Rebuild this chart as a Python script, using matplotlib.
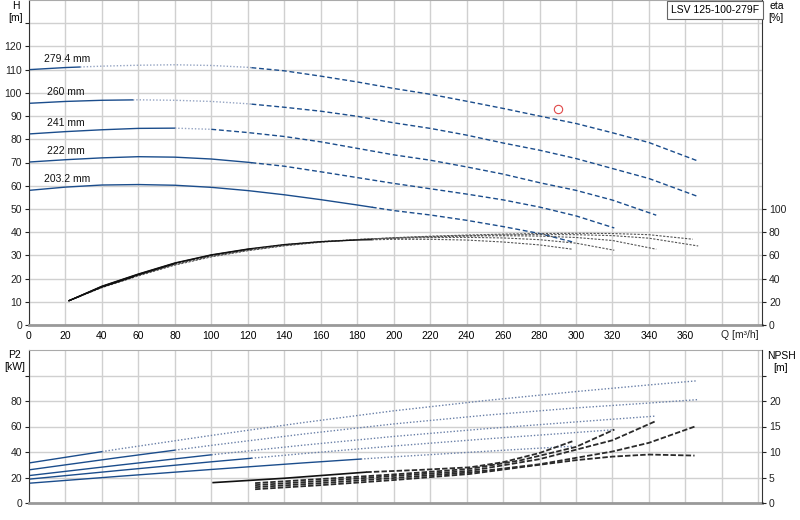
import numpy as np
import matplotlib
matplotlib.use("Agg")
import matplotlib.pyplot as plt

plt.rcParams["font.family"] = ["Liberation Sans", "DejaVu Sans"]
plt.rcParams["font.size"] = 7.5

# impeller diameters, largest first
diams = ["279.4 mm", "260 mm", "241 mm", "222 mm", "203.2 mm"]

# head curves H [m] vs Q [m3/h]
q_h = [
    [0, 20, 40, 60, 80, 100, 120, 140, 160, 180, 200, 220, 240, 260, 280, 300, 320, 340, 366],
    [0, 20, 40, 60, 80, 100, 120, 140, 160, 180, 200, 220, 240, 260, 280, 300, 320, 340, 366],
    [0, 20, 40, 60, 80, 100, 120, 140, 160, 180, 200, 220, 240, 260, 280, 300, 320, 344],
    [0, 20, 40, 60, 80, 100, 120, 140, 160, 180, 200, 220, 240, 260, 280, 300, 321],
    [0, 20, 40, 60, 80, 100, 120, 140, 160, 180, 200, 220, 240, 260, 280, 298],
]
h_vals = [
    [110.0, 110.9, 111.5, 111.9, 112.1, 111.8, 111.0, 109.5, 107.2, 104.7, 101.9, 99.4, 96.4, 93.3, 90.0, 86.8, 82.8, 78.6, 70.9],
    [95.5, 96.3, 96.8, 97.0, 96.8, 96.3, 95.3, 93.8, 92.1, 89.9, 87.1, 84.7, 81.8, 78.4, 75.3, 71.7, 67.4, 63.1, 55.6],
    [82.3, 83.3, 84.1, 84.7, 84.8, 84.3, 82.9, 81.2, 78.9, 76.1, 73.3, 71.0, 68.1, 65.0, 61.3, 58.0, 53.8, 47.3],
    [70.2, 71.2, 72.0, 72.5, 72.3, 71.5, 70.1, 68.4, 66.0, 63.5, 61.0, 58.7, 56.4, 53.9, 50.8, 47.0, 41.8],
    [58.0, 59.4, 60.3, 60.5, 60.2, 59.3, 57.9, 56.1, 54.0, 51.7, 49.3, 47.4, 45.1, 42.4, 39.4, 35.8],
]

# efficiency eta [%]
q_eta = [
    [22, 40, 60, 80, 100, 120, 140, 160, 180, 200, 220, 240, 260, 280, 300, 320, 340, 364],
    [22, 40, 60, 80, 100, 120, 140, 160, 180, 200, 220, 240, 260, 280, 300, 320, 340, 367],
    [22, 40, 60, 80, 100, 120, 140, 160, 180, 200, 220, 240, 260, 280, 300, 320, 344],
    [22, 40, 60, 80, 100, 120, 140, 160, 180, 200, 220, 240, 260, 280, 300, 321],
    [22, 40, 60, 80, 100, 120, 140, 160, 180, 200, 220, 240, 260, 280, 298],
]
eta_vals = [
    [21, 32.2, 42.3, 51.6, 58.7, 64.0, 68.2, 71.3, 73.5, 75.2, 76.5, 77.5, 78.3, 78.8, 79.0, 78.8, 77.8, 73.9],
    [21, 32.6, 42.8, 52.2, 59.2, 64.4, 68.5, 71.5, 73.6, 75.1, 76.2, 77.0, 77.6, 77.9, 77.8, 77.0, 74.8, 68.1],
    [21, 33.0, 43.3, 52.7, 59.7, 64.8, 68.8, 71.7, 73.6, 74.9, 75.9, 76.6, 76.9, 76.6, 75.4, 72.8, 65.3],
    [21, 33.2, 43.7, 53.2, 60.2, 65.2, 69.2, 71.9, 73.6, 74.6, 75.3, 75.5, 75.0, 73.5, 70.5, 64.4],
    [21, 33.5, 44.0, 53.5, 60.5, 65.5, 69.3, 71.8, 73.2, 73.8, 73.8, 73.2, 71.5, 69.0, 65.3],
]

# shaft power P2 [kW]
q_p2 = [
    [0, 50, 100, 150, 200, 250, 300, 340, 366],
    [0, 50, 100, 150, 200, 250, 300, 340, 367],
    [0, 50, 100, 150, 200, 250, 300, 344],
    [0, 50, 100, 150, 200, 250, 300, 321],
    [0, 50, 100, 150, 200, 250, 298],
]
p2_vals = [
    [31.4, 42.5, 53.0, 63.0, 72.3, 80.3, 87.4, 92.6, 95.8],
    [26.0, 35.8, 45.2, 54.0, 62.0, 68.8, 74.6, 78.4, 81.1],
    [21.5, 29.8, 37.8, 45.3, 52.2, 58.2, 63.6, 68.2],
    [18.7, 25.6, 32.3, 38.7, 44.7, 50.2, 55.3, 57.5],
    [15.5, 21.0, 26.3, 31.4, 36.2, 40.5, 44.5],
]

# NPSH [m]
q_npsh = [
    [124, 160, 200, 242, 280, 300, 320, 340, 365],
    [124, 160, 200, 242, 280, 320, 340, 366],
    [124, 160, 200, 242, 280, 320, 344],
    [124, 160, 200, 242, 270, 300, 321],
    [101, 140, 185, 215, 242, 260, 280, 298],
]
npsh_vals = [
    [2.7, 3.5, 4.5, 5.7, 7.5, 8.4, 9.1, 9.5, 9.3],
    [3.1, 3.9, 4.9, 6.0, 7.6, 10.1, 11.8, 15.1],
    [3.5, 4.3, 5.3, 6.3, 8.6, 12.3, 16.1],
    [3.9, 4.7, 5.6, 6.7, 8.4, 11.0, 14.4],
    [4.0, 4.85, 6.05, 6.5, 7.0, 8.0, 9.8, 12.1],
]

op_q = [290]
op_h = [93]

# where each curve changes from solid to dotted / dashed
solid_end = [28, 57, 80, 122, 188]
dash_start = [122, 122, 100, 122, 188]
p2_solid_end = [40, 80, 100, 122, 182]

BLUE = "#1b4d8c"
LIGHT = "#93a3c2"
DOT = (0, (1, 1.4))
DASH = (0, (3.5, 2))


def piece(q, v, lo, hi):
    q = np.asarray(q, float)
    v = np.asarray(v, float)
    lo, hi = max(lo, q[0]), min(hi, q[-1])
    if hi <= lo:
        return [], []
    xs = np.concatenate([[lo], q[(q > lo) & (q < hi)], [hi]])
    return xs, np.interp(xs, q, v)


fig = plt.figure(figsize=(8, 5.2), dpi=100)
ax = fig.add_axes([29 / 800, 195 / 520, 733 / 800, 325 / 520])
ax2 = ax.twinx()
bx = fig.add_axes([29 / 800, 17 / 520, 733 / 800, 153 / 520])
bx2 = bx.twinx()

for a in (ax, bx):
    a.set_xlim(0, 402)
    a.set_xticks(range(0, 401, 20))
    a.grid(True, color="#d0d0d0", lw=1)
    a.set_axisbelow(True)
    a.spines["top"].set_color("#aaaaaa")
    a.spines["left"].set_color("#333333")
    a.spines["bottom"].set_color("#999999")
    a.spines["bottom"].set_linewidth(2)
    a.spines["right"].set_visible(False)
    a.tick_params(axis="x", length=0, pad=4)
    a.tick_params(axis="y", length=3, pad=2, colors="#222222")
for a in (ax2, bx2):
    for s in ("top", "left", "bottom"):
        a.spines[s].set_visible(False)
    a.spines["right"].set_color("#333333")
    a.tick_params(axis="y", length=3, pad=2, colors="#222222")

ax.set_ylim(0, 140)
ax.set_yticks(range(0, 131, 10))
ax.set_yticklabels([str(v) for v in range(0, 121, 10)] + [""])
ax.set_xticklabels([str(v) for v in range(0, 361, 20)] + ["", ""])
ax2.set_ylim(0, 280)
ax2.set_yticks(range(0, 101, 20))

bx.set_ylim(0, 120)
bx.set_yticks(range(0, 101, 20))
bx.set_yticklabels([str(v) for v in range(0, 81, 20)] + [""])
bx.set_xticklabels([])
bx2.set_ylim(0, 30)
bx2.set_yticks(range(0, 26, 5))
bx2.set_yticklabels([str(v) for v in range(0, 21, 5)] + [""])

for i, name in enumerate(diams):
    # head
    x, y = piece(q_h[i], h_vals[i], 0, solid_end[i])
    ax.plot(x, y, color=BLUE, lw=1.0)
    x, y = piece(q_h[i], h_vals[i], solid_end[i], dash_start[i])
    ax.plot(x, y, color=LIGHT, lw=1.0, ls=DOT)
    x, y = piece(q_h[i], h_vals[i], dash_start[i], 999)
    ax.plot(x, y, color=BLUE, lw=1.0, ls=DASH)
    ax.text(8 if "." in name else 10, h_vals[i][0] + 4.8, name,
            ha="left", va="center", color="#111111")

    # efficiency
    x, y = piece(q_eta[i], eta_vals[i], 0, solid_end[i])
    ax2.plot(x, y, color="#111111", lw=0.9)
    x, y = piece(q_eta[i], eta_vals[i], solid_end[i], 999)
    ax2.plot(x, y, color="#555555", lw=0.8, ls=(0, (2, 1.3)))

    # power
    x, y = piece(q_p2[i], p2_vals[i], 0, p2_solid_end[i])
    bx.plot(x, y, color=BLUE, lw=1.0)
    x, y = piece(q_p2[i], p2_vals[i], p2_solid_end[i], 999)
    bx.plot(x, y, color="#6a80a8", lw=1.0, ls=DOT)

    # npsh
    if i == 4:
        x, y = piece(q_npsh[i], npsh_vals[i], 0, 185)
        bx2.plot(x, y, color="#111111", lw=1.2)
        x, y = piece(q_npsh[i], npsh_vals[i], 185, 999)
    else:
        x, y = q_npsh[i], npsh_vals[i]
    bx2.plot(x, y, color="#2a2a2a", lw=1.3, ls=(0, (3, 1.2)))

ax.plot(op_q, op_h, "o", mfc="none", mec="#e04848", ms=6, mew=0.8)

ax.text(379.5, -0.03, "Q [m³/h]", transform=ax.get_xaxis_transform(),
        ha="left", va="center", color="#222222")

fig.text(16 / 800, 1 - 6 / 520, "H", ha="center", va="center")
fig.text(16 / 800, 1 - 18 / 520, "[m]", ha="center", va="center")
fig.text(777 / 800, 1 - 6 / 520, "eta", ha="center", va="center")
fig.text(776 / 800, 1 - 18 / 520, "[%]", ha="center", va="center")
fig.text(14 / 800, 1 - 355 / 520, "P2", ha="center", va="center")
fig.text(15 / 800, 1 - 367 / 520, "[kW]", ha="center", va="center")
fig.text(781 / 800, 1 - 356 / 520, "NPSH", ha="center", va="center")
fig.text(781 / 800, 1 - 368 / 520, "[m]", ha="center", va="center")

fig.text(715 / 800, 1 - 10 / 520, "LSV 125-100-279F", ha="center", va="center",
         bbox=dict(boxstyle="square,pad=0.35", fc="white", ec="#666666", lw=0.8))

fig.savefig("out.png", dpi=100)
